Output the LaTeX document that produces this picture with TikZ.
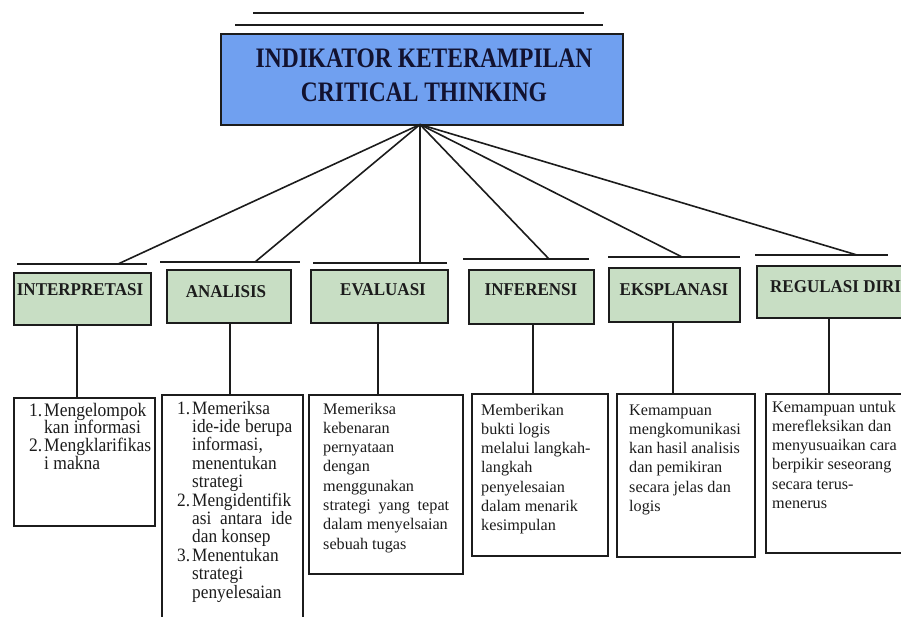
\documentclass[tikz,border=0pt]{standalone}
\usepackage{fontspec}
\setmainfont{Liberation Serif}
\definecolor{titleblue}{RGB}{112,160,240}
\definecolor{headgreen}{RGB}{200,222,196}
\definecolor{ink}{RGB}{28,28,28}
\definecolor{titleink}{RGB}{18,18,48}
\newcommand{\jline}[2]{\makebox[#1][s]{#2}}
\newcommand{\numit}[1]{\makebox[15pt][l]{#1}}
\newcommand{\cont}{\hspace*{15pt}}
\begin{document}
\begin{tikzpicture}[x=1pt,y=-1pt,
  ln/.style={line width=1.6pt, draw=ink},
  titlebox/.style={draw=ink, line width=1.6pt, fill=titleblue, anchor=north west, inner sep=0pt},
  titletext/.style={anchor=base, inner sep=0pt, text=titleink, font=\fontsize{23.5}{28.3}\selectfont\bfseries},
  headbox/.style={draw=ink, line width=1.6pt, fill=headgreen, anchor=north west, inner sep=0pt},
  descbox/.style={draw=ink, line width=1.6pt, fill=white, anchor=north west, inner sep=0pt},
  headtext/.style={anchor=base, inner sep=0pt, font=\fontsize{17}{20}\selectfont\bfseries, text=ink},
  desctext/.style={anchor=base west, inner sep=0pt, text=ink, font=\fontsize{16.2}{19.3}\selectfont},
  listtext/.style={anchor=base west, inner sep=0pt, text=ink},
]
\useasboundingbox (0,0) rectangle (901,617);
\clip (0,0) rectangle (901,617);
\fill[white] (0,0) rectangle (901,617);

% top rules
\coordinate (r1a) at (253,13); \coordinate (r1b) at (584,13);
\coordinate (r2a) at (235,25); \coordinate (r2b) at (603,25);
\draw[ln] (r1a) -- (r1b);
\draw[ln] (r2a) -- (r2b);

% title
\node[titlebox, minimum width=402pt, minimum height=91pt] (title) at (220,33) {};
\node[titletext] (tt) at (424,68) {\scalebox{1}[1.2]{\parbox[t]{400pt}{\centering
  INDIKATOR KETERAMPILAN\\CRITICAL THINKING}}};
\coordinate (hub) at (420,124.5);

% heading boxes
\node[headbox, minimum width=137pt, minimum height=52pt] (h1) at (13,272) {};
\node[headbox, minimum width=124pt, minimum height=53pt] (h2) at (166,269) {};
\node[headbox, minimum width=137pt, minimum height=53pt] (h3) at (310,269) {};
\node[headbox, minimum width=125pt, minimum height=54pt] (h4) at (468,269) {};
\node[headbox, minimum width=131pt, minimum height=54pt] (h5) at (608,267) {};
\node[headbox, minimum width=170pt, minimum height=52pt] (h6) at (756,265) {};

\node[headtext] (t1) at (80,295) {\scalebox{1}[1.06]{INTERPRETASI}};
\node[headtext] (t2) at (226,298) {\scalebox{1}[1.06]{ANALISIS}};
\node[headtext] (t3) at (383,295) {\scalebox{1}[1.06]{EVALUASI}};
\node[headtext] (t4) at (531,295) {\scalebox{1}[1.06]{INFERENSI}};
\node[headtext] (t5) at (674,295) {\scalebox{1}[1.06]{EKSPLANASI}};
\node[headtext, anchor=base west] (t6) at (770,293) {\scalebox{1}[1.06]{REGULASI DIRI}};

% bars above heading boxes
\coordinate (b1a) at (17,264);  \coordinate (b1b) at (147,264); \coordinate (b1c) at (118,264);
\coordinate (b2a) at (160,262); \coordinate (b2b) at (300,262); \coordinate (b2c) at (255,262);
\coordinate (b3a) at (313,263); \coordinate (b3b) at (447,263); \coordinate (b3c) at (420,263);
\coordinate (b4a) at (463,259); \coordinate (b4b) at (589,259); \coordinate (b4c) at (549,259);
\coordinate (b5a) at (608,257); \coordinate (b5b) at (740,257); \coordinate (b5c) at (682,257);
\coordinate (b6a) at (755,255); \coordinate (b6b) at (888,255); \coordinate (b6c) at (857,255);
\foreach \i in {1,...,6} {
  \draw[ln] (b\i a) -- (b\i b);
  \draw[ln] (hub) -- (b\i c);
}

% description boxes
\node[descbox, minimum width=141pt, minimum height=128pt] (d1) at (13,397) {};
\node[descbox, minimum width=141pt, minimum height=260pt] (d2) at (161,394) {};
\node[descbox, minimum width=154pt, minimum height=179pt] (d3) at (308,394) {};
\node[descbox, minimum width=136pt, minimum height=162pt] (d4) at (471,393) {};
\node[descbox, minimum width=138pt, minimum height=163pt] (d5) at (616,393) {};
\node[descbox, minimum width=170pt, minimum height=159pt] (d6) at (765,393) {};

% vertical connectors
\coordinate (v1) at (77,0);  \coordinate (v2) at (230,0); \coordinate (v3) at (378,0);
\coordinate (v4) at (533,0); \coordinate (v5) at (673,0); \coordinate (v6) at (829,0);
\foreach \i in {1,...,6} {
  \draw[ln] (v\i |- h\i.south) -- (v\i |- d\i.north);
}

% description texts
\node[listtext, font=\fontsize{17.5}{16.3}\selectfont] (x1) at (29,416) {\scalebox{1}[1.09]{\parbox[t]{125pt}{%
  \numit{1.}Mengelompok\\
  \cont kan informasi\\
  \numit{2.}Mengklarifikas\\
  \cont i makna}}};
\node[listtext, font=\fontsize{17.3}{16.9}\selectfont] (x2) at (177,414) {\scalebox{1}[1.09]{\parbox[t]{125pt}{%
  \numit{1.}Memeriksa\\
  \cont\jline{100pt}{ide-ide berupa}\\
  \cont informasi,\\
  \cont menentukan\\
  \cont strategi\\
  \numit{2.}Mengidentifik\\
  \cont\jline{100pt}{asi antara ide}\\
  \cont dan konsep\\
  \numit{3.}Menentukan\\
  \cont strategi\\
  \cont penyelesaian}}};
\node[desctext] (x3) at (323,414) {\parbox[t]{135pt}{%
  Memeriksa\\
  kebenaran\\
  pernyataan\\
  dengan\\
  menggunakan\\
  \jline{126pt}{strategi yang tepat}\\
  dalam menyelsaian\\
  sebuah tugas}};
\node[desctext] (x4) at (481,415) {\parbox[t]{125pt}{%
  Memberikan\\
  bukti logis\\
  melalui langkah-\\
  langkah\\
  penyelesaian\\
  dalam menarik\\
  kesimpulan}};
\node[desctext] (x5) at (629,415) {\parbox[t]{125pt}{%
  Kemampuan\\
  mengkomunikasi\\
  kan hasil analisis\\
  dan pemikiran\\
  secara jelas dan\\
  logis}};
\node[desctext] (x6) at (772,412) {\parbox[t]{140pt}{%
  Kemampuan untuk\\
  merefleksikan dan\\
  menyusuaikan cara\\
  berpikir seseorang\\
  secara terus-\\
  menerus}};
\end{tikzpicture}
\end{document}
